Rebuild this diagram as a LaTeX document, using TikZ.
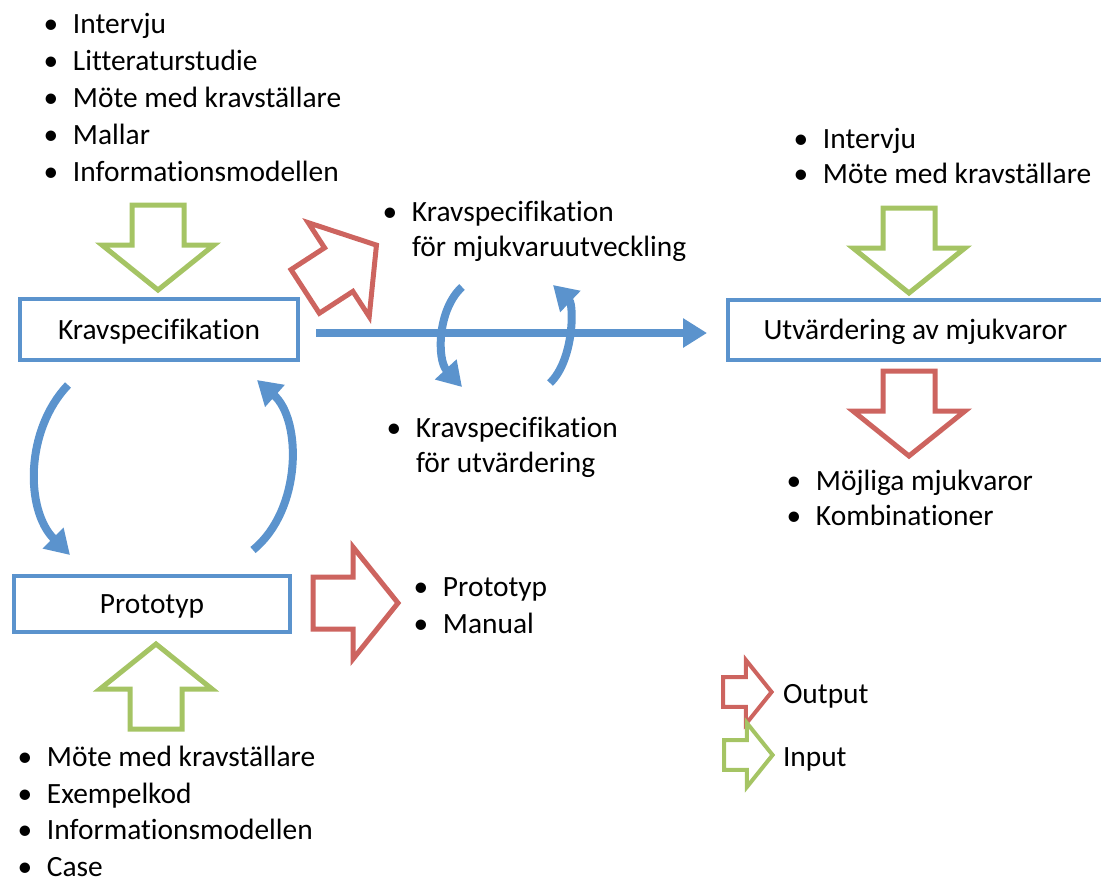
\documentclass[tikz,border=0pt]{standalone}
\usepackage{fontspec}
\setmainfont{Carlito}[Ligatures=NoCommon]
\usetikzlibrary{arrows.meta}

\definecolor{flowblue}{RGB}{91,147,205}
\definecolor{outred}{RGB}{205,100,95}
\definecolor{ingreen}{RGB}{165,196,100}

% bulleted list: name, text x, first baseline, line step, items
\newcommand\bulletlist[5]{%
  \foreach \t [count=\i] in {#5} {
    \node[item] (#1-\i) at (#2, #3+#4*\i-#4) {\hspace{-22pt}\makebox[0pt]{•}\hspace{22pt}\t};
  }}

\begin{document}
\begin{tikzpicture}[x=1pt, y=-1pt,
  every node/.style={inner sep=0pt, outer sep=0pt, font=\fontsize{29.4}{37}\selectfont},
  item/.style={anchor=base west},
  stagebox/.style={draw=flowblue, line width=4pt, text height=19pt, text depth=0pt},
  flow/.style={draw=flowblue, line width=8pt, -{Triangle[width=28pt,length=24pt]}},
  outarrow/.style={draw=outred, line width=5pt, line join=miter},
  inarrow/.style={draw=ingreen, line width=5pt, line join=miter},
  legendout/.style={draw=outred, line width=4pt, line join=miter},
  legendin/.style={draw=ingreen, line width=4pt, line join=miter},
  pics/blockarrow/.style={code={
    \draw[#1] (2,26) -- (42,26) -- (42,56) -- (87,0) -- (42,-56) -- (42,-26) -- (2,-26) -- cycle;}}
]
\useasboundingbox (0,0) rectangle (1101,881);
\clip (0,0) rectangle (1101,881);

% stages
\node[stagebox, minimum width=278pt, minimum height=61pt] (krav) at (159,329.5) {Kravspecifikation};
\node[stagebox, minimum width=276pt, minimum height=56pt] (proto) at (152,604) {Prototyp};
\node[stagebox, minimum width=375pt, minimum height=60pt] (utv) at (915.5,330) {Utvärdering av mjukvaror};

% inputs and outputs as lists
\bulletlist{inkrav}{73}{33.5}{37}{Intervju, Litteraturstudie, Möte med kravställare, Mallar, Informationsmodellen}
\bulletlist{inproto}{47}{766.5}{36.7}{Möte med kravställare, Exempelkod, Informationsmodellen, Case}
\bulletlist{inutv}{823}{148}{35.5}{Intervju, Möte med kravställare}
\bulletlist{oututv}{816}{490}{35.5}{Möjliga mjukvaror, Kombinationer}
\bulletlist{outproto}{443}{596}{37}{Prototyp, Manual}
\bulletlist{outdev}{412}{221}{35.5}{Kravspecifikation}
\node[item] (outdev-2) at (412,256.5) {för mjukvaruutveckling};
\bulletlist{outeval}{416}{437}{35}{Kravspecifikation}
\node[item] (outeval-2) at (416,472) {för utvärdering};

% block arrows
\pic[rotate=-90] at (158,203) {blockarrow=inarrow};
\pic[rotate=33] at (303.5,292.5) {blockarrow=outarrow};
\pic[rotate=90] at (156,731) {blockarrow=inarrow};
\pic at (311,603) {blockarrow=outarrow};
\pic[rotate=-90] at (909,206) {blockarrow=inarrow};
\pic[rotate=-90] at (909,369) {blockarrow=outarrow};

% legend
\pic[scale=0.57] at (722,692) {blockarrow=legendout};
\pic[scale=0.57] at (723,755) {blockarrow=legendin};
\node[item] (lout) at (783,703) {Output};
\node[item] (lin) at (783,766) {Input};

% flows
\coordinate (h1) at ([shift={(18,3.5)}]krav.east);
\coordinate (h2) at ([shift={(-21,3)}]utv.west);
\draw[flow] (h1) -- (h2);

\coordinate (a1) at (68,385);
\coordinate (a2) at (70,555);
\draw[flow] (a1) .. controls (25,430) and (25,510) .. (a2);
\coordinate (b1) at (253,550);
\coordinate (b2) at (257,380);
\draw[flow] (b1) .. controls (302,510) and (302,420) .. (b2);

\coordinate (c1) at (462,287);
\coordinate (c2) at (462,387);
\draw[flow] (c1) .. controls (437,310) and (437,360) .. (c2);
\coordinate (d1) at (550,383);
\coordinate (d2) at (553,285);
\draw[flow] (d1) .. controls (574,360) and (574,305) .. (d2);
\end{tikzpicture}
\end{document}
